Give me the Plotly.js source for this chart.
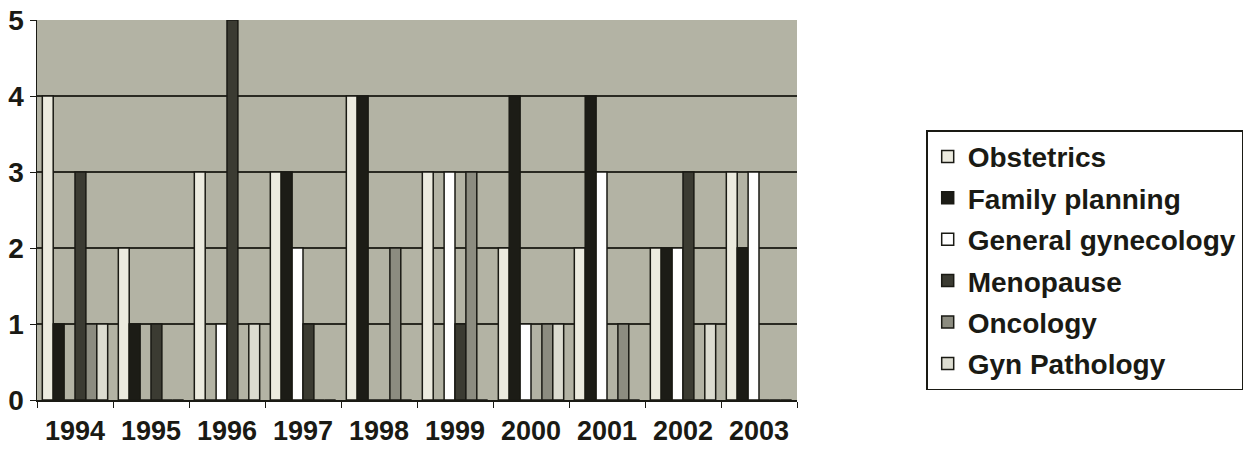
<!DOCTYPE html>
<html>
<head>
<meta charset="utf-8">
<script src="https://cdn.plot.ly/plotly-3.0.1.min.js"></script>
<style>html,body{margin:0;padding:0;background:#fff;}#chart{width:1256px;height:449px;}</style>
</head>
<body>
<div id="chart"></div>
<script>
const years = ["1994","1995","1996","1997","1998","1999","2000","2001","2002","2003"];
const seriesNames = ["Obstetrics","Family planning","General gynecology","Menopause","Oncology","Gyn Pathology"];
const obstetrics        = [4,2,3,3,4,3,2,2,2,3];
const familyPlanning    = [1,1,0,3,4,0,4,4,2,2];
const generalGynecology = [0,0,1,2,0,3,1,3,2,3];
const menopause         = [3,1,5,1,0,1,0,0,3,0];
const oncology          = [1,0,0,0,2,3,1,1,0,0];
const gynPathology      = [1,0,1,0,0,0,1,0,1,0];
const seriesValues = [obstetrics, familyPlanning, generalGynecology, menopause, oncology, gynPathology];
const colors = ["#ecebdf","#1c1c16","#ffffff","#3b3b32","#8c8c80","#dcdcd0"];

const traces = seriesNames.map((name, i) => ({
  type: "bar",
  name: name,
  x: years,
  y: seriesValues[i],
  legendgroup: "g" + i,
  marker: {color: colors[i], line: {color: "#1a1a14", width: 1.5}},
  hoverinfo: "x+y+name"
}));

const layout = {
  width: 1256, height: 449,
  margin: {l: 37, r: 459, t: 20, b: 49},
  paper_bgcolor: "#ffffff",
  plot_bgcolor: "#b3b3a4",
  barmode: "group",
  bargap: 0.14,
  bargroupgap: 0,
  font: {family: "Liberation Sans, Arial, sans-serif", size: 28, color: "#1a1a14"},
  xaxis: {
    type: "category",
    tickson: "boundaries",
    ticks: "outside", ticklen: 6, tickcolor: "#1a1a14",
    ticklabelstandoff: 6,
    showline: true, linecolor: "#1a1a14", linewidth: 1.5,
    tickfont: {family: "Liberation Sans, Arial, sans-serif", size: 27, weight: "bold"},
    showgrid: false, fixedrange: true
  },
  yaxis: {
    range: [0, 5], dtick: 1, tick0: 0,
    ticks: "outside", ticklen: 6, tickcolor: "#1a1a14",
    showline: true, linecolor: "#1a1a14", linewidth: 1.5,
    showgrid: true, gridcolor: "#2a2a22", gridwidth: 1.2,
    zeroline: false,
    tickfont: {family: "Liberation Sans, Arial, sans-serif", size: 28, weight: "bold"},
    fixedrange: true
  },
  showlegend: true,
  legend: {
    x: 1.17, xanchor: "left",
    y: 0.71, yanchor: "top",
    bgcolor: "#ffffff", bordercolor: "#1a1a14", borderwidth: 1.5,
    font: {family: "Liberation Sans, Arial, sans-serif", size: 28, weight: "bold", color: "#1a1a14"},
    tracegroupgap: 2,
    itemwidth: 30
  }
};

Plotly.newPlot("chart", traces, layout, {displayModeBar: false, staticPlot: true});
</script>
</body>
</html>
